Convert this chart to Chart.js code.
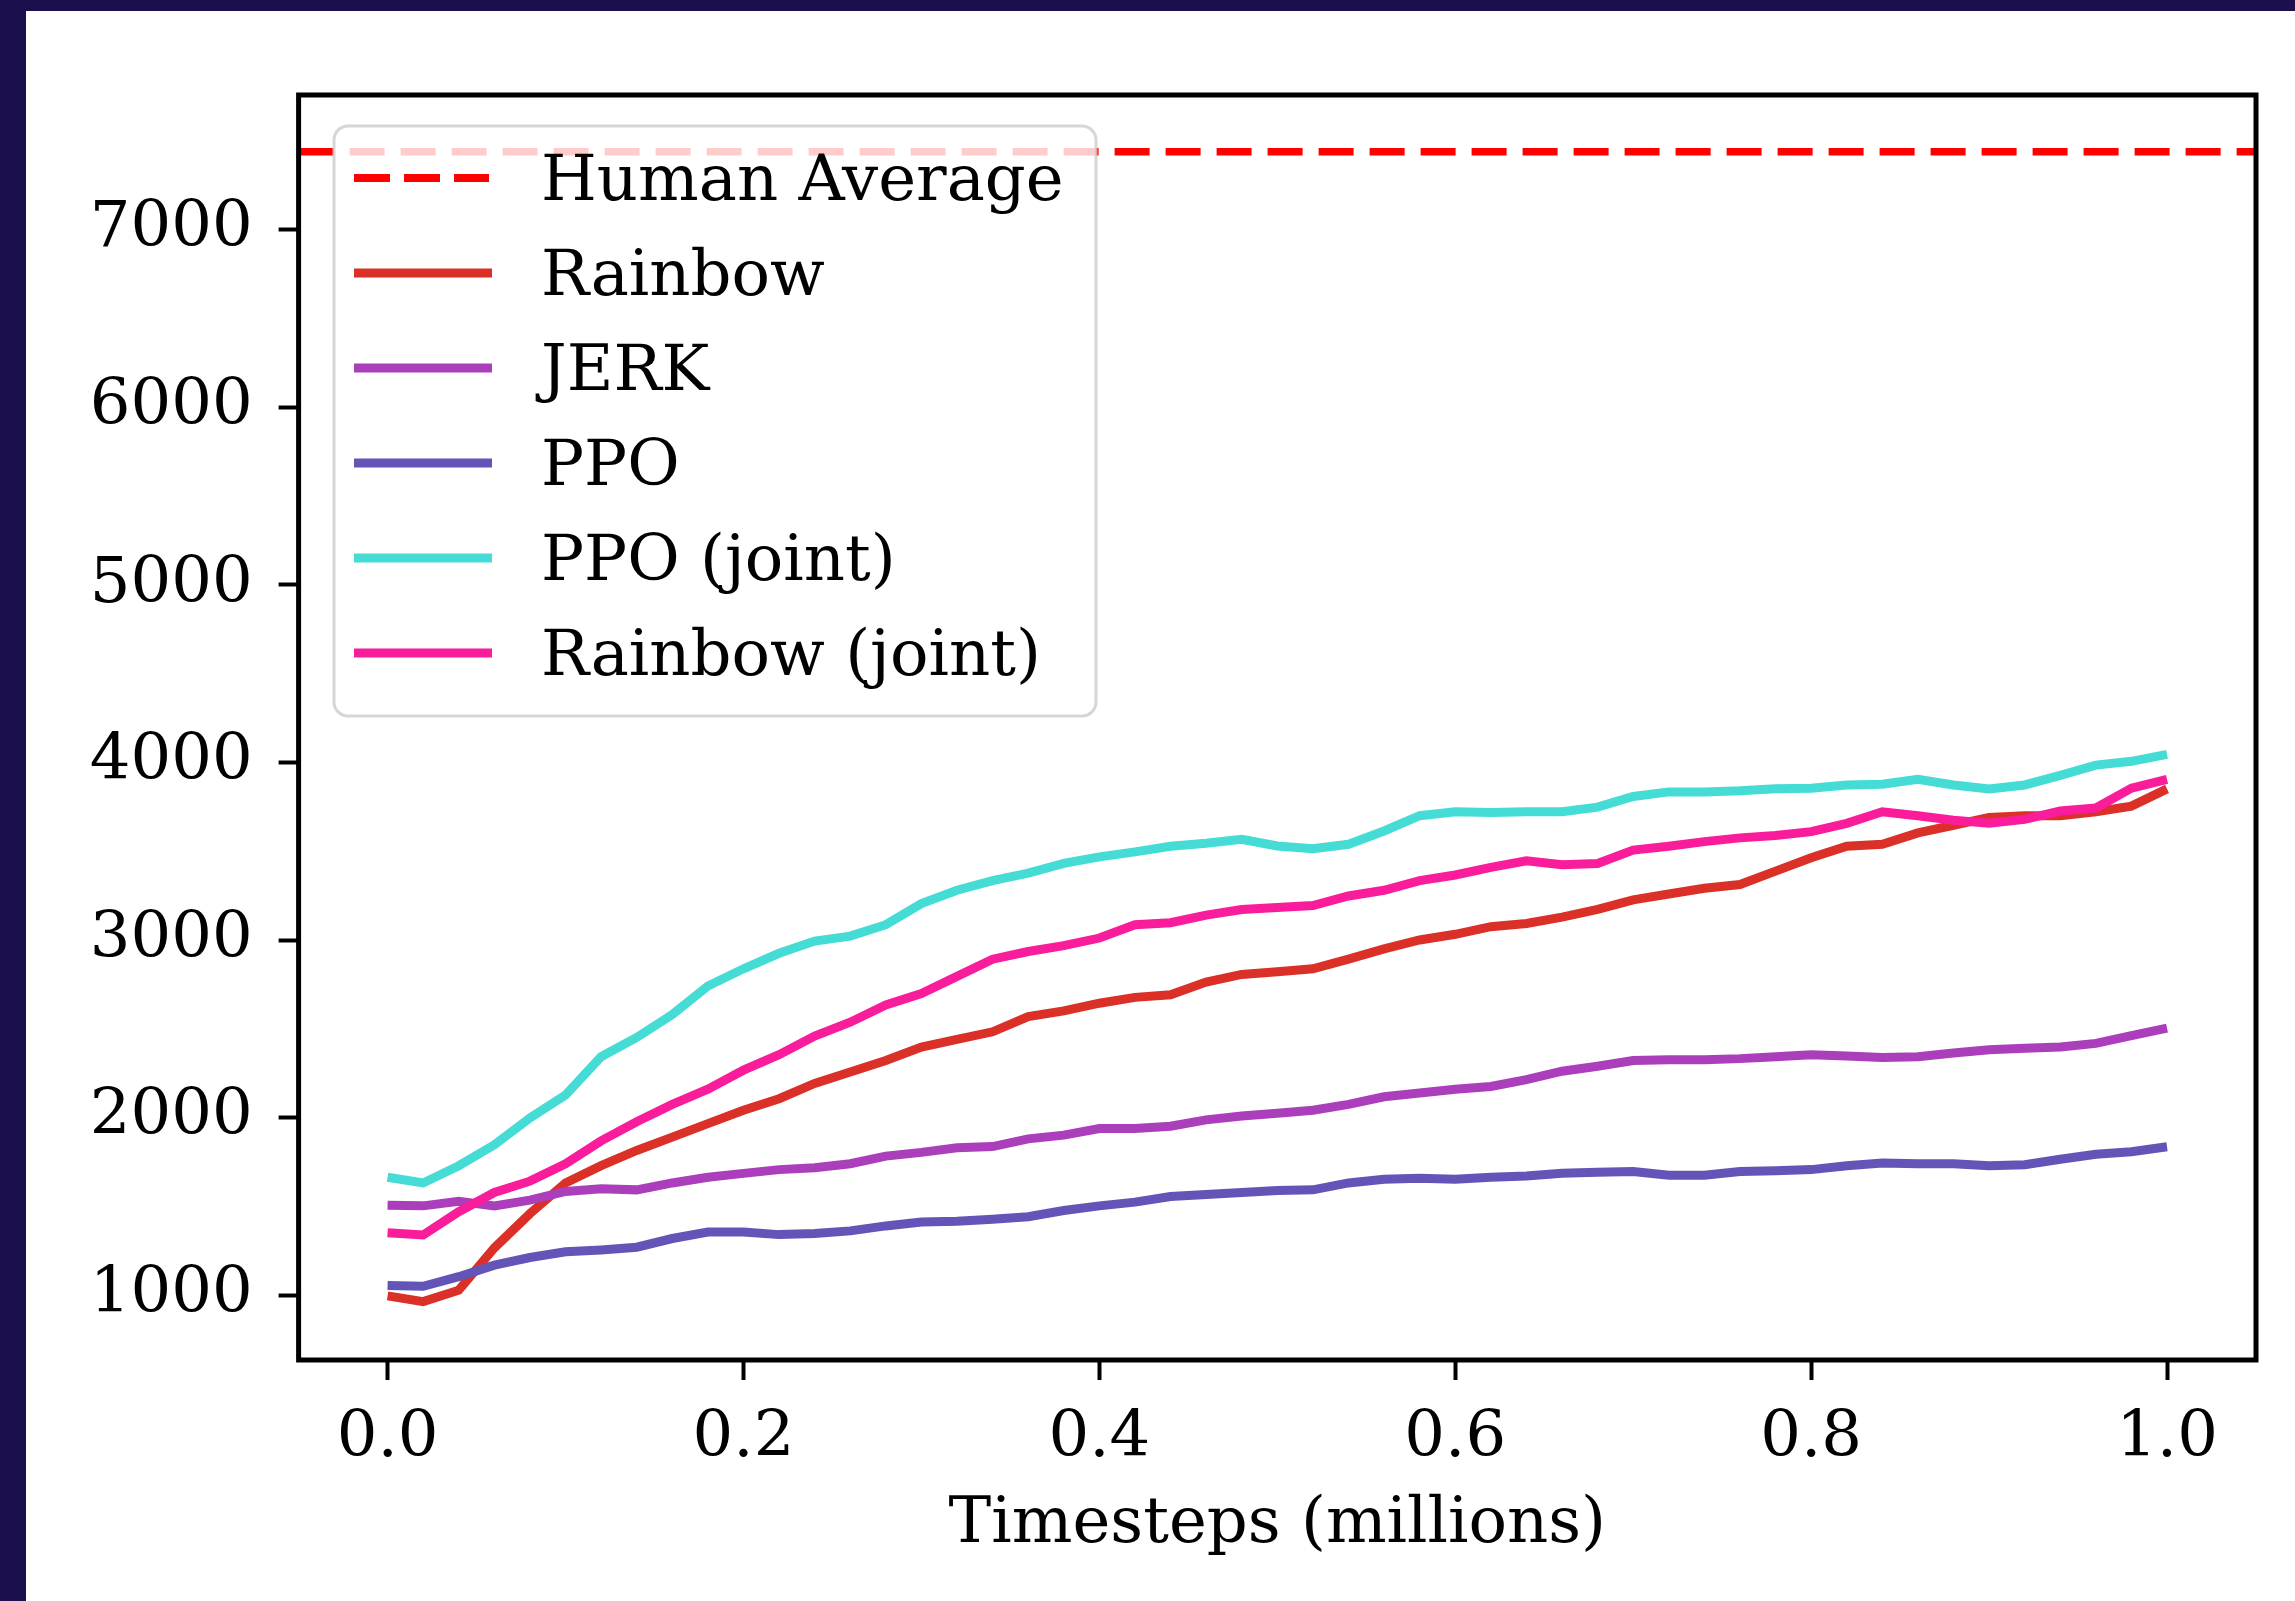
<!DOCTYPE html>
<html>
<head>
<meta charset="utf-8">
<script src="https://cdn.jsdelivr.net/npm/chart.js@4.4.1/dist/chart.umd.min.js"></script>
<style>
  html, body { margin: 0; padding: 0; background: #1c0f4e; }
  #panel { position: absolute; left: 26px; top: 11px; width: 2269px; height: 1590px; background: #fff; }
</style>
</head>
<body>
<div id="panel"><canvas id="chart" width="2269" height="1590"></canvas></div>
<script>
// ---------------- data ----------------
const steps = [0, 0.02, 0.04, 0.06, 0.08, 0.1, 0.12, 0.14, 0.16, 0.18, 0.2, 0.22, 0.24,
  0.26, 0.28, 0.3, 0.32, 0.34, 0.36, 0.38, 0.4, 0.42, 0.44, 0.46, 0.48, 0.5,
  0.52, 0.54, 0.56, 0.58, 0.6, 0.62, 0.64, 0.66, 0.68, 0.7, 0.72, 0.74,
  0.76, 0.78, 0.8, 0.82, 0.84, 0.86, 0.88, 0.9, 0.92, 0.94, 0.96, 0.98, 1.0];

const rainbow = [997, 965, 1029, 1267, 1460, 1633, 1730, 1816, 1891, 1967, 2042, 2107, 2193,
  2258, 2322, 2398, 2441, 2484, 2570, 2602, 2645, 2678, 2693, 2764, 2807, 2822,
  2839, 2893, 2951, 3001, 3033, 3076, 3094, 3130, 3173, 3227, 3260, 3292,
  3313, 3389, 3464, 3529, 3540, 3604, 3647, 3691, 3701, 3701, 3723, 3755, 3852];

const jerk = [1508, 1504, 1529, 1504, 1536, 1585, 1600, 1594, 1633, 1665, 1687, 1708, 1719,
  1741, 1784, 1805, 1831, 1838, 1881, 1902, 1939, 1939, 1952, 1988, 2010, 2025,
  2042, 2075, 2118, 2139, 2161, 2176, 2215, 2262, 2290, 2322, 2327, 2327,
  2333, 2344, 2355, 2348, 2340, 2344, 2365, 2383, 2391, 2398, 2419, 2462, 2505];

const ppo = [1055, 1051, 1105, 1170, 1213, 1245, 1256, 1271, 1320, 1357, 1357, 1342, 1348,
  1363, 1391, 1413, 1417, 1428, 1443, 1478, 1504, 1525, 1557, 1568, 1579, 1590,
  1594, 1633, 1654, 1659, 1654, 1665, 1672, 1687, 1693, 1697, 1676, 1676,
  1697, 1702, 1708, 1730, 1745, 1741, 1741, 1730, 1736, 1766, 1794, 1809, 1837];

const ppoJoint = [1665, 1633, 1730, 1848, 1999, 2128, 2344, 2452, 2581, 2742, 2839, 2926, 2995,
  3023, 3087, 3206, 3281, 3335, 3378, 3432, 3469, 3497, 3529, 3546, 3568, 3530,
  3515, 3540, 3615, 3701, 3723, 3719, 3723, 3723, 3749, 3809, 3835, 3835,
  3841, 3852, 3856, 3874, 3878, 3906, 3874, 3852, 3874, 3928, 3986, 4007, 4046];

const rainbowJoint = [1353, 1340, 1471, 1579, 1643, 1741, 1870, 1978, 2075, 2161, 2268, 2355, 2460,
  2538, 2635, 2699, 2796, 2893, 2936, 2969, 3012, 3087, 3098, 3141, 3173, 3184,
  3195, 3249, 3281, 3335, 3367, 3410, 3447, 3425, 3432, 3507, 3529, 3555,
  3576, 3589, 3611, 3658, 3723, 3701, 3675, 3658, 3680, 3727, 3744, 3856, 3906];

const humanAverage = 7440;

const seriesNames = ['Rainbow', 'JERK', 'PPO', 'PPO (joint)', 'Rainbow (joint)'];
const seriesColors = ['#db3027', '#ab3fbb', '#6354b8', '#45dcd6', '#fa1d9b'];

const xTickValues = [0, 0.2, 0.4, 0.6, 0.8, 1.0];
const yTickValues = [1000, 2000, 3000, 4000, 5000, 6000, 7000];

const xMin = -0.05, xMax = 1.05;
const yMin = 636, yMax = 7759;

// ---------------- chart ----------------
Chart.defaults.font.family = "'DejaVu Serif', serif";
Chart.defaults.color = '#000';

function points(vals) {
  return steps.map(function(x, i) { return { x: x, y: vals[i] }; });
}

var datasets = [{
  label: 'Human Average',
  data: [{ x: xMin, y: humanAverage }, { x: xMax, y: humanAverage }],
  borderColor: '#ff0000',
  borderWidth: 7.5,
  borderDash: [35, 16],
  pointRadius: 0,
  order: 10
}];

[rainbow, jerk, ppo, ppoJoint, rainbowJoint].forEach(function(vals, i) {
  datasets.push({
    label: seriesNames[i],
    data: points(vals),
    borderColor: seriesColors[i],
    borderWidth: 9,
    pointRadius: 0,
    tension: 0,
    order: 9 - i
  });
});

// box round the plot area
var framePlugin = {
  id: 'frame',
  afterDatasetsDraw: function(chart) {
    var a = chart.chartArea, ctx = chart.ctx;
    ctx.save();
    ctx.strokeStyle = '#000';
    ctx.lineWidth = 5;
    ctx.strokeRect(a.left, a.top, a.right - a.left, a.bottom - a.top);
    ctx.restore();
  }
};

// matplotlib-like legend in the upper left corner
var legendPlugin = {
  id: 'boxLegend',
  afterDraw: function(chart) {
    var ctx = chart.ctx;
    var L = 308, T = 115, R = 1070, B = 705, r = 14;
    ctx.save();
    ctx.beginPath();
    ctx.moveTo(L + r, T);
    ctx.arcTo(R, T, R, B, r);
    ctx.arcTo(R, B, L, B, r);
    ctx.arcTo(L, B, L, T, r);
    ctx.arcTo(L, T, R, T, r);
    ctx.closePath();
    ctx.fillStyle = 'rgba(255,255,255,0.8)';
    ctx.fill();
    ctx.lineWidth = 3;
    ctx.strokeStyle = 'rgba(204,204,204,0.8)';
    ctx.stroke();

    ctx.font = "64px 'DejaVu Serif'";
    ctx.textBaseline = 'alphabetic';
    ctx.fillStyle = '#000';
    chart.data.datasets.forEach(function(ds, i) {
      var y = 167 + i * 95;
      ctx.beginPath();
      ctx.lineWidth = ds.borderDash ? 8 : 9;
      ctx.strokeStyle = ds.borderColor;
      ctx.setLineDash(ds.borderDash ? [36, 14] : []);
      ctx.moveTo(328, y);
      ctx.lineTo(ds.borderDash ? 463 : 466, y);
      ctx.stroke();
      ctx.setLineDash([]);
      ctx.fillText(ds.label, 515, y + 22);
    });
    ctx.restore();
  }
};

new Chart(document.getElementById('chart'), {
  type: 'line',
  data: { datasets: datasets },
  options: {
    responsive: false,
    animation: false,
    layout: { padding: { left: 0, top: 84, right: 39, bottom: 0 } },
    plugins: { legend: { display: false }, tooltip: { enabled: false } },
    scales: {
      x: {
        type: 'linear',
        min: xMin,
        max: xMax,
        afterBuildTicks: function(s) { s.ticks = xTickValues.map(function(v) { return { value: v }; }); },
        afterFit: function(s) { s.height = 241; },
        grid: { drawOnChartArea: false, tickLength: 20, tickWidth: 4, tickColor: '#000' },
        border: { display: false },
        ticks: {
          color: '#000', font: { size: 64 }, padding: 21, maxRotation: 0, autoSkip: false,
          callback: function(v) { return v.toFixed(1); }
        },
        title: {
          display: true, text: 'Timesteps (millions)', color: '#000',
          font: { size: 64 }, padding: { top: 0, bottom: 37 }
        }
      },
      y: {
        type: 'linear',
        min: yMin,
        max: yMax,
        afterBuildTicks: function(s) { s.ticks = yTickValues.map(function(v) { return { value: v }; }); },
        afterFit: function(s) { s.width = 272.6; },
        grid: { drawOnChartArea: false, tickLength: 20, tickWidth: 4, tickColor: '#000' },
        border: { display: false },
        ticks: {
          color: '#000', font: { size: 64 }, padding: 26, autoSkip: false,
          callback: function(v) { return String(v); }
        }
      }
    }
  },
  plugins: [framePlugin, legendPlugin]
});
</script>
</body>
</html>
